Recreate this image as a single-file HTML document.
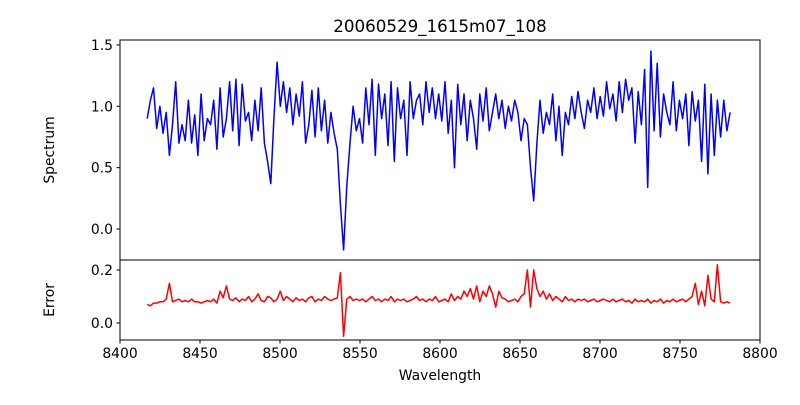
<!DOCTYPE html>
<html><head><meta charset="utf-8"><style>
body{margin:0;background:#fff}
svg text{font-family:"DejaVu Sans","Liberation Sans",sans-serif;fill:#000}
</style></head><body>
<svg id="chart" width="800" height="400" viewBox="0 0 800 400" xmlns="http://www.w3.org/2000/svg">
<rect width="800" height="400" fill="#fff"/>
<defs>
<clipPath id="c1"><rect x="120" y="40" width="640" height="220"/></clipPath>
<clipPath id="c2"><rect x="120" y="260" width="640" height="80"/></clipPath>
</defs>
<text x="440" y="32" font-size="16.7" text-anchor="middle">20060529_1615m07_108</text>
<text transform="translate(54,150) rotate(-90)" font-size="13.9" text-anchor="middle">Spectrum</text>
<text transform="translate(54,300) rotate(-90)" font-size="13.9" text-anchor="middle">Error</text>
<text x="440" y="380" font-size="13.9" text-anchor="middle">Wavelength</text>
<g id="g1" clip-path="url(#c1)"></g>
<g id="g2" clip-path="url(#c2)"></g>
<g id="axes"></g>
</svg>
<script>
const wlStart = 8417, wlStep = 1.98;
const spectrum = [0.9,1.05,1.15,0.82,1.0,0.78,0.95,0.6,0.85,1.2,0.7,0.85,0.72,1.05,0.7,0.93,0.6,1.1,0.72,0.9,0.85,
1.05,0.65,1.15,0.75,0.9,1.2,0.8,1.22,0.68,1.18,0.88,0.95,0.72,1.05,0.8,1.15,0.7,0.55,0.37,0.9,
1.36,1.0,1.2,0.95,1.15,0.85,1.1,0.92,1.2,0.7,0.85,1.13,0.75,1.15,0.8,1.05,0.7,0.95,0.78,0.65,
0.2,-0.17,0.35,0.7,1.0,0.8,0.9,0.7,1.15,0.85,1.22,0.6,1.18,0.9,1.1,0.68,1.2,0.55,1.15,0.9,
1.05,0.6,1.2,0.9,1.05,1.1,0.85,1.2,0.95,1.15,0.9,1.1,0.88,1.2,0.78,1.05,0.5,1.18,0.85,1.1,
0.72,1.05,0.9,0.65,1.1,0.88,1.15,0.8,0.95,1.1,0.9,1.05,0.82,1.0,0.88,1.05,0.95,0.72,0.9,0.85,
0.5,0.23,0.7,1.05,0.78,0.95,0.85,1.1,0.72,1.0,0.6,0.95,0.85,1.08,0.9,1.12,0.95,0.82,1.05,0.95,
1.15,0.9,1.08,0.92,1.2,0.98,1.1,0.88,1.2,0.95,1.22,1.05,1.15,0.7,1.12,0.85,1.3,0.34,1.45,0.8,
1.35,0.75,1.1,0.95,0.85,1.2,0.8,1.05,0.9,1.1,0.68,1.12,0.88,1.05,0.55,1.18,0.45,1.1,0.6,1.05,
0.75,1.05,0.8,0.95];
const errorVals = [.07,.065,.075,.075,.08,.08,.09,.15,.08,.085,.09,.08,.085,.08,.09,.08,.08,.075,.08,.085,.08,
.09,.075,.12,.095,.14,.09,.085,.095,.08,.09,.085,.1,.08,.09,.11,.085,.08,.1,.095,.08,
.09,.12,.085,.1,.09,.08,.095,.085,.09,.08,.095,.1,.08,.09,.085,.1,.09,.085,.09,.095,
.19,-.05,.09,.1,.085,.09,.085,.09,.08,.09,.1,.085,.09,.08,.09,.085,.1,.08,.09,.085,
.09,.08,.085,.09,.1,.085,.09,.08,.09,.085,.1,.08,.085,.09,.08,.11,.085,.1,.09,.12,
.1,.13,.09,.14,.08,.12,.1,.14,.11,.06,.12,.095,.09,.08,.085,.09,.08,.1,.11,.2,
.06,.2,.13,.1,.12,.09,.11,.085,.1,.09,.08,.1,.085,.09,.08,.09,.085,.09,.08,.085,
.09,.08,.085,.09,.085,.08,.09,.08,.085,.09,.08,.085,.075,.09,.08,.085,.08,.09,.075,.085,
.08,.09,.075,.085,.08,.09,.08,.085,.09,.08,.09,.1,.15,.07,.12,.065,.18,.09,.08,.22,
.08,.075,.08,.075];
const xTicks = [8400,8450,8500,8550,8600,8650,8700,8750,8800];
const specTicks = [0.0,0.5,1.0,1.5];
const errTicks = [0.0,0.2];

const NS = "http://www.w3.org/2000/svg";
const X = v => 120 + (v - 8400) * 1.6;
const Y1 = v => 229 - v * 122.7;
const Y2 = v => 323 - v * 265;

function mk(tag, attrs, parent){
  const e = document.createElementNS(NS, tag);
  for (const k in attrs) e.setAttribute(k, attrs[k]);
  parent.appendChild(e);
  return e;
}
const g1 = document.getElementById('g1'), g2 = document.getElementById('g2'), ax = document.getElementById('axes');
const p1 = mk('path', {d: spectrum.map((v,i)=>(i?'L':'M')+X(wlStart+i*wlStep).toFixed(1)+','+Y1(v).toFixed(1)).join(''), fill:'none', stroke:'#0000ff', 'stroke-width':1.5, 'stroke-linejoin':'round'}, g1);


const p2 = mk('path', {d: errorVals.map((v,i)=>(i?'L':'M')+X(wlStart+i*wlStep).toFixed(1)+','+Y2(v).toFixed(1)).join(''), fill:'none', stroke:'#ff0000', 'stroke-width':1.5, 'stroke-linejoin':'round'}, g2);



const f1 = mk('rect', {x:120, y:40, width:640, height:220, fill:'none', stroke:'#000', 'stroke-width':1}, ax);


const f2 = mk('rect', {x:120, y:260, width:640, height:80, fill:'none', stroke:'#000', 'stroke-width':1}, ax);



xTicks.forEach(t => {
  const x = X(t);
  mk('line', {x1:x, x2:x, y1:340, y2:343.5, stroke:'#000'}, ax);
  const tx = mk('text', {x:x, y:358, 'font-size':13.9, 'text-anchor':'middle'}, ax);
  tx.textContent = t;
  
  
});
specTicks.forEach(t => {
  const y = Y1(t);
  mk('line', {x1:116.5, x2:120, y1:y, y2:y, stroke:'#000'}, ax);
  const tx = mk('text', {x:113, y:y+5, 'font-size':13.9, 'text-anchor':'end'}, ax);
  tx.textContent = t.toFixed(1);
  
  
});
errTicks.forEach(t => {
  const y = Y2(t);
  mk('line', {x1:116.5, x2:120, y1:y, y2:y, stroke:'#000'}, ax);
  const tx = mk('text', {x:113, y:y+5, 'font-size':13.9, 'text-anchor':'end'}, ax);
  tx.textContent = t.toFixed(1);
  
  
});
</script>
</body></html>
